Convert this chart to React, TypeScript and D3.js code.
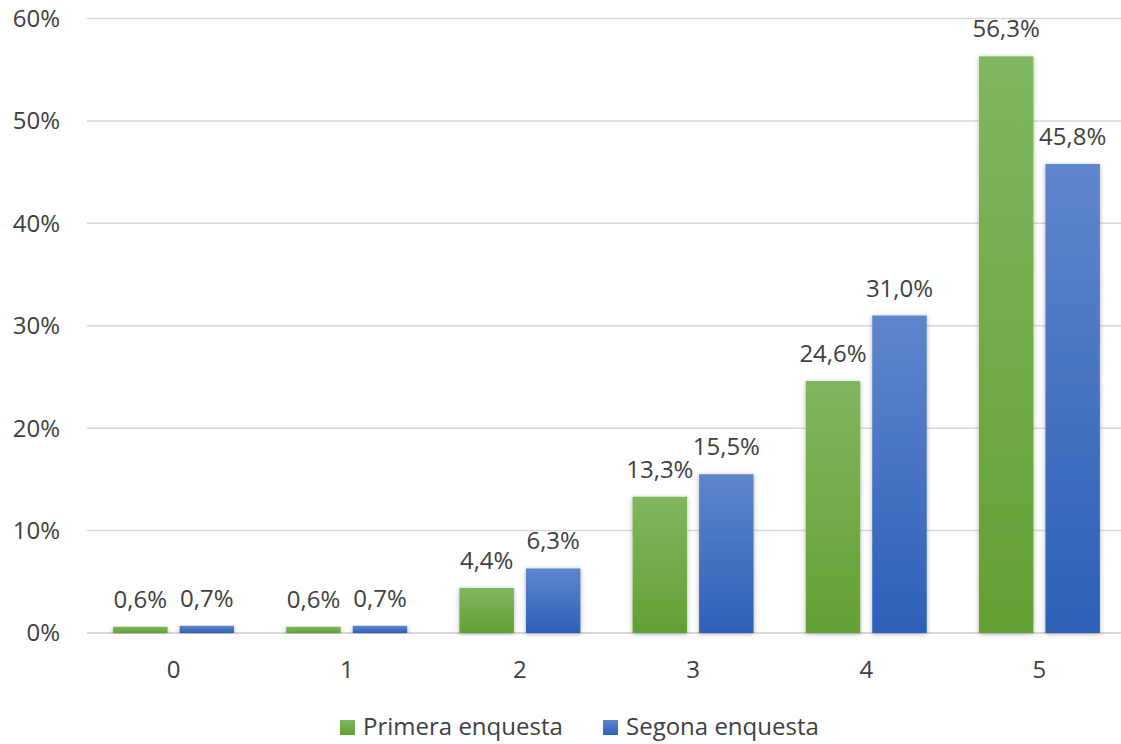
import React from "react";
import * as d3 from "d3";

const categories = ["0", "1", "2", "3", "4", "5"];
const primera = [0.6, 0.6, 4.4, 13.3, 24.6, 56.3];
const segona = [0.7, 0.7, 6.3, 15.5, 31.0, 45.8];
const seriesNames = ["Primera enquesta", "Segona enquesta"];
const yTicks = [0, 10, 20, 30, 40, 50, 60];

const W = 1121;
const H = 744;
const FONT = "'Open Sans', 'Noto Sans', sans-serif";
const TEXT = "#404040";
const FS = 24;

export default function App() {
  const x = d3.scaleBand<string>().domain(categories).range([87, 1126]).paddingInner(0).paddingOuter(0);
  const y = d3.scaleLinear().domain([0, 60]).range([633, 18.5]);
  const inner = d3.scaleBand<string>().domain(["a", "b"]).range([0, 121]).paddingInner(0.1805).paddingOuter(0);
  const groupOffset = (x.bandwidth() - 121) / 2;
  const fmt = (v: number) => v.toFixed(1).replace(".", ",") + "%";
  const series = [
    { key: "a", values: primera, fill: "url(#gGreen)" },
    { key: "b", values: segona, fill: "url(#gBlue)" },
  ];

  return (
    <svg width={W} height={H} style={{ position: "absolute", left: 0, top: 0, background: "#fff" }} fontFamily={FONT}>
      <defs>
        <linearGradient id="gGreen" x1="0" y1="0" x2="0" y2="1">
          <stop offset="0" stopColor="#7fb65f" />
          <stop offset="1" stopColor="#63a034" />
        </linearGradient>
        <linearGradient id="gBlue" x1="0" y1="0" x2="0" y2="1">
          <stop offset="0" stopColor="#5f86cc" />
          <stop offset="1" stopColor="#2d60b8" />
        </linearGradient>
        <filter id="shadow" x="-20%" y="-5%" width="140%" height="110%">
          <feDropShadow dx="0" dy="1" stdDeviation="2.5" floodColor="#000" floodOpacity="0.3" />
        </filter>
      </defs>
      {yTicks.map((t) => (
        <g key={t}>
          <line x1={87} x2={W} y1={y(t)} y2={y(t)} stroke="#d9d9d9" strokeWidth={t === 0 ? 2 : 1.5} />
          <text x={60} y={y(t)} dy="0.35em" textAnchor="end" fontSize={FS} fill={TEXT}>
            {t + "%"}
          </text>
        </g>
      ))}
      {categories.map((c, i) => (
        <g key={c}>
          {series.map((s) => {
            const bx = (x(c) as number) + groupOffset + (inner(s.key) as number);
            const v = s.values[i];
            return (
              <g key={s.key}>
                <rect
                  x={bx}
                  y={y(v)}
                  width={inner.bandwidth()}
                  height={y(0) - y(v)}
                  fill={s.fill}
                  filter="url(#shadow)"
                />
                <text
                  x={bx + inner.bandwidth() / 2}
                  y={y(v) - 19}
                  textAnchor="middle"
                  fontSize={FS}
                  fill={TEXT}
                >
                  {fmt(v)}
                </text>
              </g>
            );
          })}
          <text x={(x(c) as number) + x.bandwidth() / 2} y={678} textAnchor="middle" fontSize={FS} fill={TEXT}>
            {c}
          </text>
        </g>
      ))}
      <g>
        <rect x={340} y={720} width={15} height={15} fill="url(#gGreen)" />
        <text x={363} y={735} fontSize={FS} fill={TEXT}>{seriesNames[0]}</text>
        <rect x={603} y={720} width={15} height={15} fill="url(#gBlue)" />
        <text x={626} y={735} fontSize={FS} fill={TEXT}>{seriesNames[1]}</text>
      </g>
    </svg>
  );
}
